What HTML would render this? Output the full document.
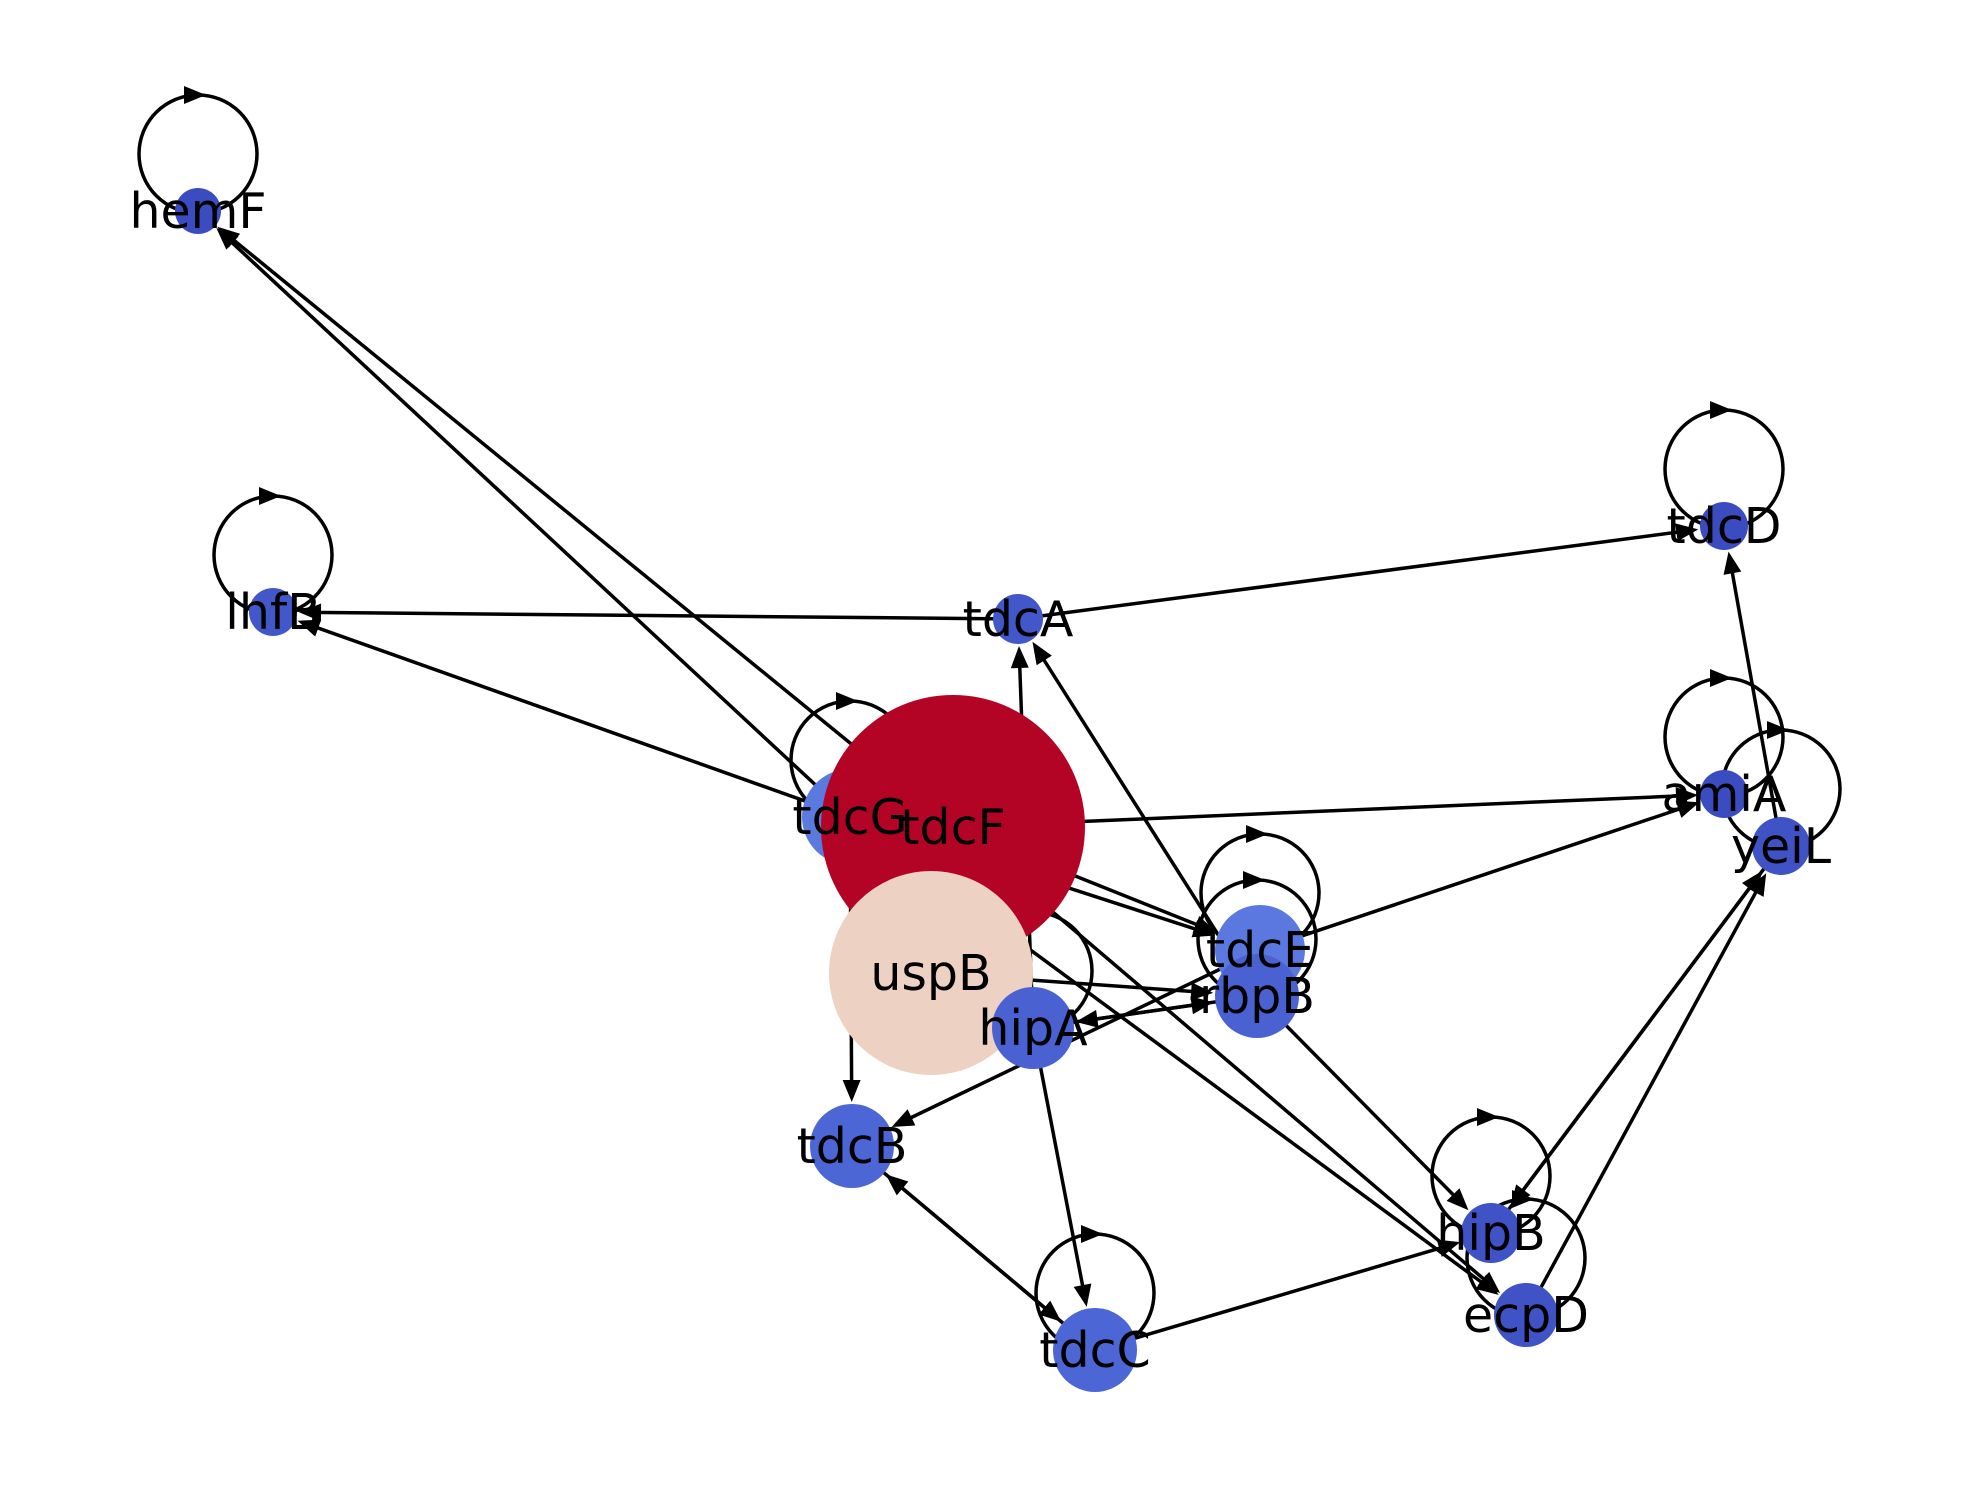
<!DOCTYPE html>
<html><head><meta charset="utf-8"><style>
html,body{margin:0;padding:0;background:#fff;}
svg{display:block}
text{font-family:"DejaVu Sans","Liberation Sans",sans-serif;font-size:49px;fill:#000;}
</style></head><body>
<svg id="g" width="1980" height="1500" viewBox="0 0 1980 1500" xmlns="http://www.w3.org/2000/svg">
<g id="edges"></g>
<g id="nodes"></g>
<g id="labels"></g>
</svg>
<script>
const nodeNames = ["hemF","lhfB","tdcA","tdcD","amiA","yeiL","tdcG","tdcF","uspB","tdcE","rbpB","hipA","tdcB","tdcC","hipB","ecpD"];
const nodeX = [198,273,1018,1724,1724,1781,850,953,931,1260,1257,1033,852,1095,1491,1526];
const nodeY = [211,612,619,526,794,846,817,827,973,950,996,1028,1146,1350,1233,1315];
const nodeR = [23,24,25,24,24,29,48,132,102,45,42,41,42,42,30,32];
const nodeColor = ["#3b4cc0","#4257c9","#4257c9","#3b4cc0","#3b4cc0","#3f53c6","#5b7ae0","#b40426","#edd1c2","#5a78df","#4a61d2","#4a61d2","#4d66d5","#4d66d5","#3f53c6","#3f53c6"];
const edgeFrom = ["tdcA","tdcA","hipA","tdcG","tdcF","tdcG","tdcF","tdcF","tdcG","rbpB","tdcE","uspB","hipA","rbpB","tdcE","tdcG","hipA","tdcB","tdcC","tdcC","rbpB","tdcF","tdcG","yeiL","hipB","ecpD","yeiL"];
const edgeTo   = ["lhfB","tdcD","tdcA","hemF","hemF","lhfB","amiA","tdcE","tdcE","tdcA","amiA","rbpB","rbpB","hipA","tdcB","tdcB","tdcC","tdcC","tdcB","hipB","hipB","ecpD","ecpD","hipB","yeiL","yeiL","tdcD"];
const selfLoops = ["hemF","lhfB","tdcD","amiA","yeiL","tdcG","tdcE","rbpB","hipB","tdcC","ecpD","hipA"];

const NS="http://www.w3.org/2000/svg";
const E=document.getElementById('edges'),N=document.getElementById('nodes'),L=document.getElementById('labels');
const idx=n=>nodeNames.indexOf(n);
function arrowHead(x,y,ux,uy){
  const len=22,w=9;
  const bx=x-ux*len,by=y-uy*len;
  const p=document.createElementNS(NS,'polygon');
  p.setAttribute('points',`${x},${y} ${bx-uy*w},${by+ux*w} ${bx+uy*w},${by-ux*w}`);
  p.setAttribute('fill','#000');
  return p;
}
edgeFrom.forEach((f,k)=>{
  const a=idx(f),b=idx(edgeTo[k]);
  const x1=nodeX[a],y1=nodeY[a],x2=nodeX[b],y2=nodeY[b];
  const d=Math.hypot(x2-x1,y2-y1),ux=(x2-x1)/d,uy=(y2-y1)/d;
  const ex=x2-ux*(nodeR[b]+2),ey=y2-uy*(nodeR[b]+2);
  const g=document.createElementNS(NS,'g');
  
  
  const l=document.createElementNS(NS,'line');
  l.setAttribute('x1',x1);l.setAttribute('y1',y1);
  l.setAttribute('x2',ex-ux*10);l.setAttribute('y2',ey-uy*10);
  l.setAttribute('stroke','#000');l.setAttribute('stroke-width','3.5');
  g.appendChild(l);
  g.appendChild(arrowHead(ex,ey,ux,uy));
  E.appendChild(g);
});
selfLoops.forEach(n=>{
  const i=idx(n);
  const cx=nodeX[i],cy=nodeY[i]-57,r=59;
  const g=document.createElementNS(NS,'g');
  
  
  const c=document.createElementNS(NS,'circle');
  c.setAttribute('cx',cx);c.setAttribute('cy',cy);c.setAttribute('r',r);
  c.setAttribute('fill','none');c.setAttribute('stroke','#000');c.setAttribute('stroke-width','3.5');
  g.appendChild(c);
  g.appendChild(arrowHead(cx+8,cy-r,1,0));
  E.appendChild(g);
});
nodeNames.forEach((n,i)=>{
  const c=document.createElementNS(NS,'circle');
  c.setAttribute('cx',nodeX[i]);c.setAttribute('cy',nodeY[i]);c.setAttribute('r',nodeR[i]);
  c.setAttribute('fill',nodeColor[i]);
  
  
  N.appendChild(c);
  const t=document.createElementNS(NS,'text');
  t.setAttribute('x',nodeX[i]);t.setAttribute('y',nodeY[i]+17);
  t.setAttribute('text-anchor','middle');
  t.textContent=n;
  
  
  L.appendChild(t);
});
</script>
</body></html>
